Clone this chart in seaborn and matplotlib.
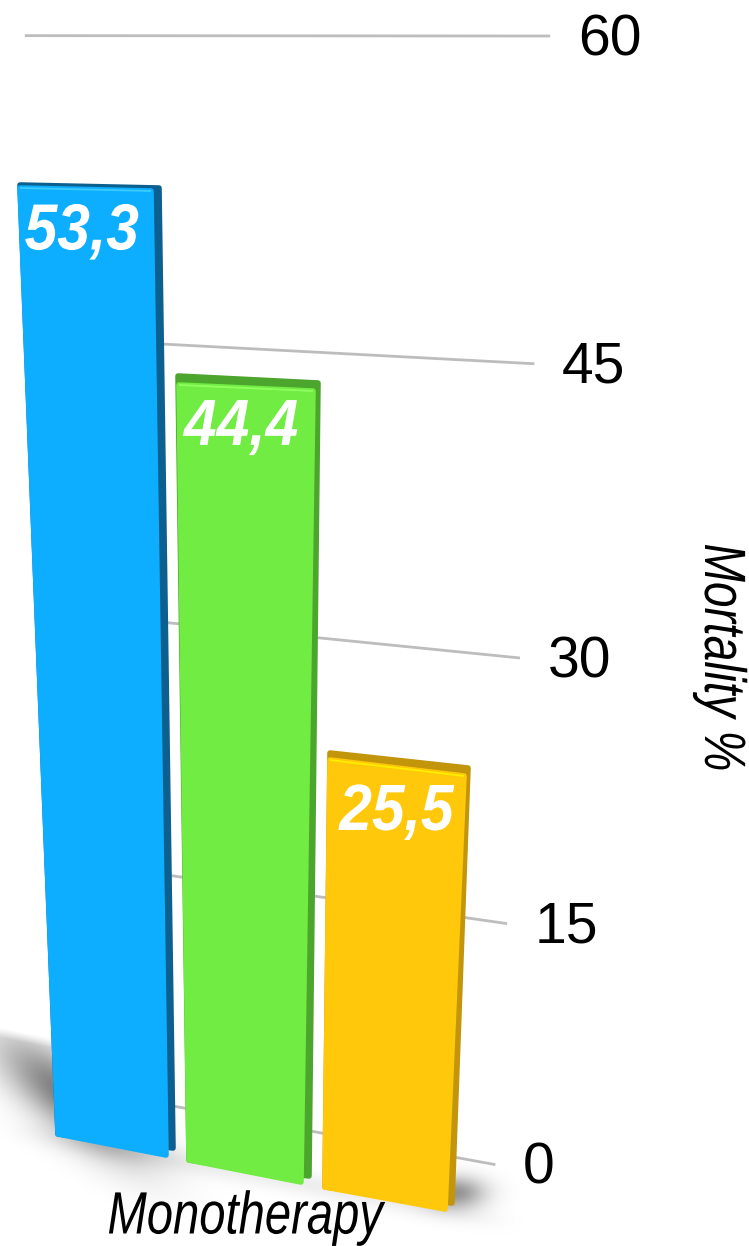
import numpy as np
import pandas as pd
import seaborn as sns
import matplotlib
matplotlib.use("Agg")
import matplotlib.pyplot as plt
import matplotlib.patheffects as pe
from matplotlib.transforms import Transform, Affine2D

# ---- data
groups = ["Group A", "Group B", "Group C"]
mortality = [53.3, 44.4, 25.5]
value_labels = ["53,3", "44,4", "25,5"]
ticks = [0, 15, 30, 45, 60]
category_label = "Monotherapy"
axis_label = "Mortality %"
front_colors = ["#0DAEFF", "#70EC42", "#FFC80A"]
side_colors = ["#0B6090", "#4CA52C", "#C2950A"]
light_colors = ["#3CCBFF", "#90FF60", "#FFEE00"]

W, H = 749, 1246
BAR_W = 0.92

# where the corners of each bar land on the page (perspective layout)
front_corners = [[(20, 188), (151, 191), (58, 1134), (166, 1155)],
                 [(179, 385), (313, 391), (189, 1160), (301, 1182)],
                 [(330, 760), (464, 776), (325, 1187), (445, 1209)]]
outer_corners = [[(20, 185), (159, 188), (58, 1134), (173, 1148)],
                 [(178, 376), (318, 383), (189, 1160), (309, 1176)],
                 [(330, 753), (468, 768), (325, 1187), (452, 1203)]]
label_offsets = [(-3, 43), (-4, 40), (0, 45)]


def fit_h(src, dst):
    rows = []
    for (x, y), (u, v) in zip(src, dst):
        rows.append([x, y, 1, 0, 0, 0, -u * x, -u * y, -u])
        rows.append([0, 0, 0, x, y, 1, -v * x, -v * y, -v])
    return np.linalg.svd(np.array(rows, float))[2][-1].reshape(3, 3)


class Perspective(Transform):
    input_dims = output_dims = 2
    is_separable = False
    has_inverse = False

    def __init__(self, m):
        super().__init__()
        self.m = m

    def transform_non_affine(self, values):
        p = np.c_[np.asarray(values, float), np.ones(len(values))] @ self.m.T
        return p[:, :2] / p[:, 2:]


class Condense(pe.AbstractPathEffect):
    """Squeeze the glyphs of a text about its centre, for a condensed face."""

    def __init__(self, sx=1.0, sy=1.0):
        super().__init__()
        self.sx, self.sy = sx, sy

    def draw_path(self, renderer, gc, tpath, affine, rgbFace=None):
        verts = affine.transform(tpath.vertices)
        cx, cy = (verts.min(0) + verts.max(0)) / 2
        extra = Affine2D().translate(-cx, -cy).scale(self.sx, self.sy).translate(cx, cy)
        renderer.draw_path(gc, tpath, affine + extra, rgbFace)


px = Affine2D().scale(1, -1).translate(0, H)


def bar_tf(i, corners):
    v = mortality[i]
    src = [(i - BAR_W / 2, v), (i + BAR_W / 2, v), (i - BAR_W / 2, 0), (i + BAR_W / 2, 0)]
    return Perspective(fit_h(src, corners[i])) + px


front_tf = [bar_tf(i, front_corners) for i in range(3)]
outer_tf = [bar_tf(i, outer_corners) for i in range(3)]
grid_h = fit_h([(0, 60), (1, 60), (1, 45), (1, 30), (1, 15), (1, 0), (0, 0), (0, 45), (0, 30), (0, 15)],
               [(25, 36), (550, 36), (535, 364), (520, 658), (507, 923), (495, 1165), (65, 1086),
                (36, 337), (46, 610), (56, 860)])
grid_tf = Perspective(grid_h) + px

sns.set_theme(style="white")
plt.rcParams["font.family"] = ["Liberation Sans"]

fig = plt.figure(figsize=(W / 100, H / 100), dpi=100, facecolor="white")
ax = fig.add_axes([0, 0, 1, 1])

# floor shadow
yy, xx = np.mgrid[0:H, 0:W].astype(float)
edge = 1027 + (xx / 50.0) * 10
left = 0.52 * np.exp(-((xx - 68) / 70.0) ** 2 - ((yy - (1052 + 0.65 * xx)) / 38.0) ** 2) * np.clip((yy - edge) / 10.0, 0, 1)
right = 0.42 * np.exp(-((xx - 455) / 30.0) ** 2 - ((yy - 1192) / 16.0) ** 2)
window = np.exp(-((xx - 260) / 230.0) ** 8)
under = 0.07 * np.exp(-((yy - (1160 + (xx - 180) * 0.185)) / 12.0) ** 2) * window
rgba = np.zeros((H, W, 4))
rgba[..., 3] = np.clip(left + right + under, 0, 1)
ax.imshow(rgba, extent=(0, W, H, 0), aspect="auto", transform=px, zorder=0, clip_on=False, interpolation="bilinear")

# grid
grid = ax.hlines(ticks, 0, 1, colors="#BDBDBD", linewidth=2.0, zorder=1)
grid.set_transform(grid_tf)
grid.set_clip_on(False)

frame = pd.DataFrame({"group": groups, "mortality": mortality})


def style_bars(patches, tfs):
    for p, tf in zip(patches, tfs):
        p.set_transform(tf)
        p.set_clip_on(False)
        p.set_edgecolor(p.get_facecolor())
        p.set_linewidth(4.0)
        p.set_joinstyle("round")


# side / top body of every bar
sns.barplot(data=frame, x="group", y="mortality", hue="group", palette=side_colors, saturation=1,
            width=BAR_W, legend=False, ax=ax, zorder=2)
n_side = len(ax.patches)
style_bars(ax.patches[:n_side], outer_tf)

# front of every bar
sns.barplot(data=frame, x="group", y="mortality", hue="group", palette=front_colors, saturation=1,
            width=BAR_W, legend=False, ax=ax, zorder=3)
style_bars(ax.patches[n_side:], front_tf)

# highlight on the front's top edge
for i, v in enumerate(mortality):
    ln = ax.hlines([v], i - BAR_W / 2, i + BAR_W / 2, colors=light_colors[i], linewidth=1.3, zorder=4)
    ln.set_transform(front_tf[i])
    ln.set_clip_on(False)

# value labels
for i, (v, s) in enumerate(zip(mortality, value_labels)):
    dx, dy = label_offsets[i]
    ax.annotate(s, xy=(i, v), xycoords=front_tf[i], xytext=(dx * 0.72, -dy * 0.72), textcoords="offset points",
                ha="center", va="center", color="white", fontsize=47, style="italic", weight="bold",
                zorder=5, path_effects=[Condense(sx=0.9)])

# tick labels
for t in ticks:
    ax.annotate(str(t), xy=(1, t), xycoords=grid_tf, xytext=(20, -3), textcoords="offset points",
                ha="left", va="center", fontsize=41, color="black", zorder=5)

ax.text(245, 1218, category_label, transform=px, ha="center", va="center", fontsize=43,
        style="italic", color="black", zorder=5, clip_on=False, path_effects=[Condense(sx=0.79)])
ax.text(720, 658, axis_label, transform=px, ha="center", va="center", rotation=270, fontsize=42,
        style="italic", color="black", zorder=5, clip_on=False, path_effects=[Condense(sy=0.79)])

ax.set_xlim(-1, 3)
ax.set_ylim(0, 60)
ax.set_axis_off()
fig.savefig("out.png", dpi=100, facecolor="white")
